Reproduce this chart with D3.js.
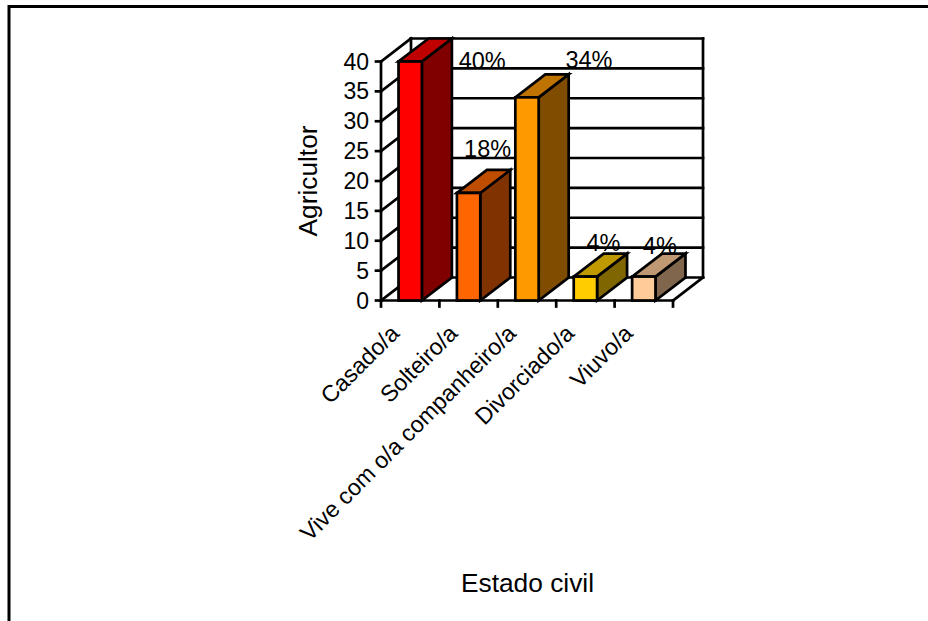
<!DOCTYPE html>
<html>
<head>
<meta charset="utf-8">
<script src="https://cdn.jsdelivr.net/npm/d3@7/dist/d3.min.js"></script>
<style>
html,body{margin:0;padding:0;background:#fff}
svg{display:block}
text{font-family:"Liberation Sans",Arial,sans-serif;fill:#000}
</style>
</head>
<body>
<svg id="chart" width="928" height="621"></svg>
<script>
const categories = ["Casado/a","Solteiro/a","Vive com o/a companheiro/a","Divorciado/a","Viuvo/a"];
const counts = [40,18,34,4,4];
const percentLabels = ["40%","18%","34%","4%","4%"];
const barColors = ["#ff0000","#ff6600","#ff9900","#ffcc00","#ffcc99"];
const yTicks = [0,5,10,15,20,25,30,35,40];

const svg = d3.select("#chart");

// plot box on the front plane, plus the oblique depth of the 3D walls
const plot = {left:381,right:673,top:61.5,bottom:300.5};
const depth = {x:30,y:-23};

const x = d3.scaleBand().domain(categories).range([plot.left,plot.right]).paddingInner(0.6).paddingOuter(0.3);
const y = d3.scaleLinear().domain([0,40]).range([plot.bottom,plot.top]);
const step = x.step();

// manually placed value labels, relative to each bar's front top centre
const labelShift = [[72,7],[19,-36],[62,-29],[18,-26],[16,-23]];

// page frame: only the top and left edges are visible
svg.append("path").attr("d","M9,621V6.5H928").attr("fill","none").attr("stroke","#000").attr("stroke-width",3);

const line = (g,x1,y1,x2,y2) => g.append("line").attr("x1",x1).attr("y1",y1).attr("x2",x2).attr("y2",y2);

// walls and floor
const walls = svg.append("g").attr("stroke","#000").attr("stroke-width",2.7).attr("fill","none").attr("stroke-linecap","square");
yTicks.forEach(t => {
  const py = y(t);
  line(walls,plot.left,py,plot.left+depth.x,py+depth.y);
  line(walls,plot.left+depth.x,py+depth.y,plot.right+depth.x,py+depth.y);
  line(walls,plot.left-5,py,plot.left,py);
});
line(walls,plot.left,plot.top,plot.left,plot.bottom);
line(walls,plot.left+depth.x,plot.top+depth.y,plot.left+depth.x,plot.bottom+depth.y);
line(walls,plot.right+depth.x,plot.top+depth.y,plot.right+depth.x,plot.bottom+depth.y);
line(walls,plot.left,plot.bottom,plot.right,plot.bottom);
line(walls,plot.right,plot.bottom,plot.right+depth.x,plot.bottom+depth.y);
d3.range(categories.length+1).forEach(i => line(walls,plot.left+i*step,plot.bottom,plot.left+i*step,plot.bottom+6));

// 3D columns: side, top, then front face
const shade = (c,k) => { const r=d3.rgb(c); return d3.rgb(r.r*k,r.g*k,r.b*k).formatHex(); };
const bars = svg.append("g").selectAll("g").data(categories).join("g")
  .attr("stroke","#000").attr("stroke-width",2.7).attr("stroke-linejoin","miter");
bars.append("path").attr("fill",(d,i)=>shade(barColors[i],0.5))
  .attr("d",(d,i)=>{const r=x(d)+x.bandwidth(),t=y(counts[i]),b=y(0);
    return `M${r},${b}L${r},${t}L${r+depth.x},${t+depth.y}L${r+depth.x},${b+depth.y}Z`;});
bars.append("path").attr("fill",(d,i)=>shade(barColors[i],0.75))
  .attr("d",(d,i)=>{const l=x(d),r=l+x.bandwidth(),t=y(counts[i]);
    return `M${l},${t}L${r},${t}L${r+depth.x},${t+depth.y}L${l+depth.x},${t+depth.y}Z`;});
bars.append("rect").attr("fill",(d,i)=>barColors[i])
  .attr("x",d=>x(d)).attr("y",(d,i)=>y(counts[i])).attr("width",x.bandwidth()).attr("height",(d,i)=>y(0)-y(counts[i]));

// value labels sit above everything else
svg.append("g").selectAll("text").data(categories).join("text")
  .attr("text-anchor","middle").attr("font-size",23.5)
  .attr("x",(d,i)=>x(d)+x.bandwidth()/2+labelShift[i][0])
  .attr("y",(d,i)=>y(counts[i])+labelShift[i][1])
  .text((d,i)=>percentLabels[i]);

// y tick labels
svg.append("g").selectAll("text").data(yTicks).join("text")
  .attr("text-anchor","end").attr("font-size",23)
  .attr("x",plot.left-12).attr("y",d=>y(d)+8).text(d=>d);

// rotated category labels
svg.append("g").selectAll("text").data(categories).join("text")
  .attr("text-anchor","end").attr("font-size",23.2)
  .attr("transform",d=>`translate(${x(d)+x.bandwidth()/2-21},${plot.bottom+23}) rotate(-45) translate(0,16)`)
  .text(d=>d);

// axis titles
svg.append("text").attr("text-anchor","middle").attr("font-size",26.3)
  .attr("x",527.5).attr("y",592).text("Estado civil");
svg.append("text").attr("text-anchor","middle").attr("font-size",26.3)
  .attr("transform","translate(317,181) rotate(-90)").text("Agricultor");
</script>
</body>
</html>
